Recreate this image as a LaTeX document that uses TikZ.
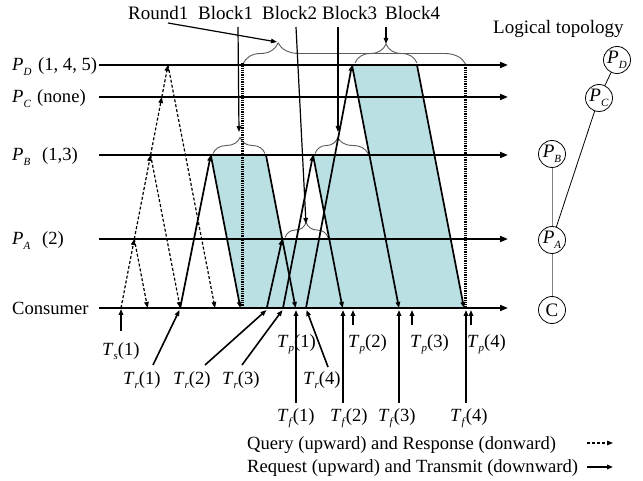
\documentclass[tikz,border=0pt]{standalone}
\usepackage{fontspec}
\setmainfont{Liberation Serif}
\usetikzlibrary{arrows.meta,decorations.pathreplacing}
\definecolor{blockfill}{RGB}{187,224,228}
\definecolor{bracegray}{RGB}{90,90,90}
\newcommand{\Tsub}[2]{\textit{#1}\raisebox{-0.55ex}{\fontsize{11}{11}\selectfont\textit{#2}}}
\begin{document}
\begin{tikzpicture}[x=1pt,y=-1pt,
  lbl/.style={inner sep=0pt,font=\fontsize{18.6}{22}\selectfont},
  toplbl/.style={inner sep=0pt,font=\fontsize{19}{23}\selectfont},
  axisline/.style={line width=1.8pt,-{Triangle[length=8pt,width=6pt]}},
  qline/.style={line width=1.2pt,dash pattern=on 3pt off 2pt,-{Triangle[length=6pt,width=4.5pt]}},
  sline/.style={line width=1.7pt,-{Triangle[length=6pt,width=4.5pt]}},
  pointer/.style={line width=1.6pt,-{Triangle[length=6pt,width=4.5pt]}},
  thinptr/.style={line width=1.2pt,-{Triangle[length=6pt,width=4.5pt]}},
  dotline/.style={line width=2.2pt,dash pattern=on 1.3pt off 1pt},
  bracestyle/.style={draw=bracegray,line width=0.9pt,decorate},
  topo/.style={circle,draw,line width=0.8pt,minimum size=27pt,inner sep=0pt,font=\fontsize{19}{22}\selectfont}
]
\useasboundingbox (0,0) rectangle (643,481);
% ---------- coordinates ----------
\coordinate (D0) at (99,65);  \coordinate (D1) at (508,65);
\coordinate (C0) at (99,97);  \coordinate (C1) at (508,97);
\coordinate (B0) at (99,155); \coordinate (B1) at (508,155);
\coordinate (A0) at (99,239); \coordinate (A1) at (508,239);
\coordinate (K0) at (99,308); \coordinate (K1) at (508,308);
\coordinate (q0) at (121,308);
\coordinate (q1) at (134.3,239);
\coordinate (q2) at (150.6,155);
\coordinate (q3) at (161.8,97);
\coordinate (q4) at (168,65);
\coordinate (s1) at (147.6,308);
\coordinate (s2) at (180.2,308);
\coordinate (s4) at (215,308);
\coordinate (r1t) at (210.8,155);
\coordinate (r2b) at (266.8,308); \coordinate (r2t) at (282.2,239);
\coordinate (r3b) at (283,308);   \coordinate (r3t) at (313,155);
\coordinate (r4b) at (306,308);   \coordinate (r4t) at (352,65);
\coordinate (b1r) at (266,155);
\coordinate (b4r) at (417,65);
\coordinate (e1) at (240.4,308);
\coordinate (e2) at (295.6,308);
\coordinate (e3) at (342.6,308);
\coordinate (e4) at (399,308);
\coordinate (e5) at (464,308);
\coordinate (pA2) at (329.2,239);
\coordinate (pB4) at (369.4,155);
\coordinate (v1t) at (242.5,63); \coordinate (v1b) at (242.5,308);
\coordinate (v2t) at (465.5,65); \coordinate (v2b) at (465.5,308);
% ---------- shaded blocks ----------
\fill[blockfill] (r1t) -- (b1r) -- (r2t) -- (pA2) -- (r3t) -- (pB4) -- (r4t) -- (b4r) -- (e5) -- (e1) -- cycle;
% ---------- braces ----------
\coordinate (rb0) at (243,64);   \coordinate (rb1) at (465.5,64);
\coordinate (bb10) at (213,153.5); \coordinate (bb11) at (265,153.5);
\coordinate (bb20) at (285,237.5); \coordinate (bb21) at (328,237.5);
\coordinate (bb30) at (315,153.5); \coordinate (bb31) at (368,153.5);
\coordinate (bb40) at (355,63);  \coordinate (bb41) at (417,63);
\draw[bracestyle,decoration={brace,amplitude=21pt,aspect=0.158}] (rb0) -- (rb1);
\draw[bracestyle,decoration={brace,amplitude=16pt,aspect=0.52}] (bb10) -- (bb11);
\draw[bracestyle,decoration={brace,amplitude=15pt,aspect=0.49}] (bb20) -- (bb21);
\draw[bracestyle,decoration={brace,amplitude=16pt,aspect=0.43}] (bb30) -- (bb31);
\draw[bracestyle,decoration={brace,amplitude=19pt,aspect=0.5}] (bb40) -- (bb41);
% ---------- time lines ----------
\draw[axisline] (D0) -- (D1);
\draw[axisline] (C0) -- (C1);
\draw[axisline] (B0) -- (B1);
\draw[axisline] (A0) -- (A1);
\draw[axisline] (K0) -- (K1);
% ---------- queries and responses ----------
\draw[qline] (q0) -- (q1);
\draw[qline] (q1) -- (q2);
\draw[qline] (q2) -- (q3);
\draw[qline] (q3) -- (q4);
\draw[qline] (q1) -- (s1);
\draw[qline] (q2) -- (s2);
\draw[qline] (q4) -- (s4);
% ---------- requests ----------
\draw[sline] (s2) -- (r1t);
\draw[sline] (r2b) -- (r2t);
\draw[sline] (r3b) -- (r3t);
\draw[sline] (r4b) -- (r4t);
% ---------- transmits ----------
\draw[sline] (r1t) -- (e1);
\draw[sline] (b1r) -- (e2);
\draw[sline] (r3t) -- (e3);
\draw[sline] (r4t) -- (e4);
\draw[sline] (b4r) -- (e5);
% ---------- dotted round markers ----------
\draw[dotline] (v1t) -- (v1b);
\draw[dotline] (v2t) -- (v2b);
% ---------- top labels and pointers ----------
\node[toplbl,anchor=base west] (round) at (128,20) {Round1};
\node[toplbl,anchor=base west] (blk1) at (198,20) {Block1};
\node[toplbl,anchor=base west] (blk2) at (262,20) {Block2};
\node[toplbl,anchor=base west] (blk3) at (322,20) {Block3};
\node[toplbl,anchor=base west] (blk4) at (385,20) {Block4};
\coordinate (pr0) at (168,23);  \coordinate (pr1) at (277,42);
\coordinate (p10) at (238,27);  \coordinate (p11) at (239,132);
\coordinate (p20) at (296,27);  \coordinate (p21) at (306,224);
\coordinate (p30) at (338,27);  \coordinate (p31) at (338,132);
\coordinate (p40) at (386,27);  \coordinate (p41) at (386,44);
\draw[thinptr] (pr0) -- (pr1);
\draw[thinptr] (p10) -- (p11);
\draw[thinptr] (p20) -- (p21);
\draw[thinptr] (p30) -- (p31);
\draw[thinptr] (p40) -- (p41);
% ---------- left labels ----------
\node[lbl,anchor=base west] (lPD) at (12,71) {\Tsub{P}{D}};
\node[lbl,anchor=base west] (lPDv) at (38,71) {(1, 4, 5)};
\node[lbl,anchor=base west] (lPC) at (12,103) {\Tsub{P}{C}};
\node[lbl,anchor=base west] (lPCv) at (37,103) {(none)};
\node[lbl,anchor=base west] (lPB) at (12,161) {\Tsub{P}{B}};
\node[lbl,anchor=base west] (lPBv) at (42,161) {(1,3)};
\node[lbl,anchor=base west] (lPA) at (12,245) {\Tsub{P}{A}};
\node[lbl,anchor=base west] (lPAv) at (42,245) {(2)};
\node[lbl,anchor=base west] (lK) at (12,314) {Consumer};
% ---------- bottom pointers ----------
\coordinate (ts0) at (121,331); \coordinate (ts1) at (121,309);
\coordinate (tr10) at (153,365); \coordinate (tr11) at (179.5,310);
\coordinate (tr20) at (205,365); \coordinate (tr21) at (266.5,310);
\coordinate (tr30) at (242,365); \coordinate (tr31) at (282.5,310);
\coordinate (tr40) at (328,367); \coordinate (tr41) at (306.5,310);
\coordinate (tf10) at (296,403); \coordinate (tf11) at (296,310);
\coordinate (tf20) at (343,403); \coordinate (tf21) at (343,310);
\coordinate (tf30) at (399,403); \coordinate (tf31) at (399,310);
\coordinate (tf40) at (466,403); \coordinate (tf41) at (466,310);
\coordinate (tp20) at (353,325); \coordinate (tp21) at (353,310);
\coordinate (tp30) at (412,325); \coordinate (tp31) at (412,310);
\coordinate (tp40) at (471,325); \coordinate (tp41) at (471,310);
\draw[pointer] (ts0) -- (ts1);
\draw[pointer] (tr10) -- (tr11);
\draw[pointer] (tr20) -- (tr21);
\draw[pointer] (tr30) -- (tr31);
\draw[pointer] (tr40) -- (tr41);
\draw[pointer] (tf10) -- (tf11);
\draw[pointer] (tf20) -- (tf21);
\draw[pointer] (tf30) -- (tf31);
\draw[pointer] (tf40) -- (tf41);
\draw[pointer] (tp20) -- (tp21);
\draw[pointer] (tp30) -- (tp31);
\draw[pointer] (tp40) -- (tp41);
% ---------- bottom labels ----------
\node[lbl,anchor=base west] (Ts1) at (102,355) {\Tsub{T}{s}(1)};
\node[lbl,anchor=base west] (Tr1) at (123,384) {\Tsub{T}{r}(1)};
\node[lbl,anchor=base west] (Tr2) at (173,384) {\Tsub{T}{r}(2)};
\node[lbl,anchor=base west] (Tr3) at (222,384) {\Tsub{T}{r}(3)};
\node[lbl,anchor=base west] (Tr4) at (303,384) {\Tsub{T}{r}(4)};
\node[lbl,anchor=base west] (Tp1) at (277,347) {\Tsub{T}{p}(1)};
\node[lbl,anchor=base west] (Tp2) at (348,347) {\Tsub{T}{p}(2)};
\node[lbl,anchor=base west] (Tp3) at (410,347) {\Tsub{T}{p}(3)};
\node[lbl,anchor=base west] (Tp4) at (467,347) {\Tsub{T}{p}(4)};
\node[lbl,anchor=base west] (Tf1) at (277,421) {\Tsub{T}{f}(1)};
\node[lbl,anchor=base west] (Tf2) at (330,421) {\Tsub{T}{f}(2)};
\node[lbl,anchor=base west] (Tf3) at (378,421) {\Tsub{T}{f}(3)};
\node[lbl,anchor=base west] (Tf4) at (450,421) {\Tsub{T}{f}(4)};
% ---------- legend ----------
\node[lbl,anchor=base west] (legq) at (247,449) {Query (upward) and Response (donward)};
\node[lbl,anchor=base west] (legr) at (247,472) {Request (upward) and Transmit (downward)};
\coordinate (lq0) at (587,443); \coordinate (lq1) at (613,443);
\coordinate (lr0) at (587,467); \coordinate (lr1) at (613,467);
\draw[qline] (lq0) -- (lq1);
\draw[sline] (lr0) -- (lr1);
% ---------- logical topology ----------
\node[toplbl,anchor=base west] (ltitle) at (493,33.5) {Logical topology};
\node[topo] (tPD) at (617,60) {\Tsub{P}{D}};
\node[topo] (tPC) at (599,98) {\Tsub{P}{C}};
\node[topo] (tPB) at (552,154) {\Tsub{P}{B}};
\node[topo] (tPA) at (552,240) {\Tsub{P}{A}};
\node[topo] (tC) at (552,310) {C};
\draw[line width=0.8pt] (tPD) -- (tPC);
\draw[line width=0.8pt] (tPC) -- (tPA);
\draw[line width=1pt,gray] (tPB) -- (tPA);
\draw[line width=1pt,gray] (tPA) -- (tC);
\end{tikzpicture}
\end{document}
